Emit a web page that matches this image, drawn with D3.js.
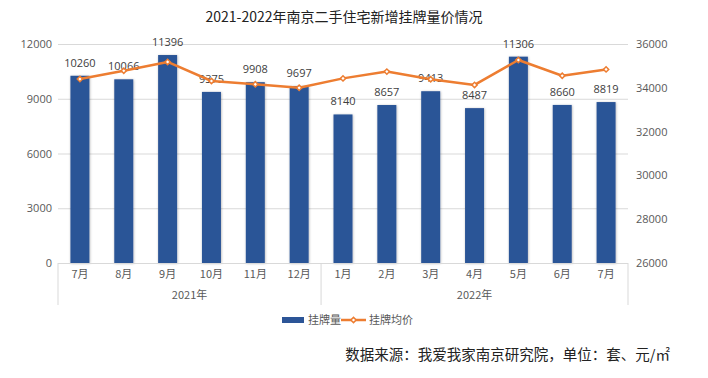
<!DOCTYPE html>
<html>
<head>
<meta charset="utf-8">
<script src="https://cdn.jsdelivr.net/npm/d3@7"></script>
<style>
  body { margin: 0; background: #fff; }
  svg text { font-family: "Noto Sans CJK SC", "Noto Sans", sans-serif; }
</style>
</head>
<body>
<svg></svg>
<script>
// chart data
let months = ['7月', '8月', '9月', '10月', '11月', '12月', '1月', '2月', '3月', '4月', '5月', '6月', '7月'];
let listings = [10260, 10066, 11396, 9375, 9908, 9697, 8140, 8657, 9413, 8487, 11306, 8660, 8819];
let avgPrice = [34400, 34780, 35180, 34310, 34160, 34000, 34430, 34740, 34390, 34130, 35270, 34550, 34840];
let yearLabels = ['2021年', '2022年'];
let yearSpans = [6, 7];
let leftTicks = [0, 3000, 6000, 9000, 12000];
let rightTicks = [26000, 28000, 30000, 32000, 34000, 36000];

let width = 708, height = 378;
let plotLeft = 58, plotRight = 628, plotTop = 44, plotBottom = 263;

let svg = d3.select('svg').attr('width', width).attr('height', height);

let x = d3.scaleBand().domain(d3.range(months.length)).range([plotLeft, plotRight]);
let yLeft = d3.scaleLinear().domain([0, 12000]).range([plotBottom, plotTop]);
let yRight = d3.scaleLinear().domain([26000, 36000]).range([plotBottom, plotTop]);
let cx = (i) => x(i) + x.bandwidth() / 2;
let barW = 19;
let numFont = '"Open Sans", "Noto Sans", sans-serif';

// title
svg.append('text')
    .attr('x', 344).attr('y', 22)
    .attr('text-anchor', 'middle')
    .attr('font-size', 14)
    .attr('fill', '#222')
    .text('2021-2022年南京二手住宅新增挂牌量价情况');

// gridlines
svg.append('g')
    .attr('transform', `translate(${plotLeft},0)`)
    .call(d3.axisLeft(yLeft).tickValues(leftTicks.slice(1)).tickSize(-(plotRight - plotLeft)).tickFormat(''))
    .call(g => g.select('.domain').remove())
    .call(g => g.selectAll('line').attr('stroke', '#d9d9d9'));

// left axis
svg.append('g')
    .attr('transform', `translate(${plotLeft - 6},0)`)
    .call(d3.axisLeft(yLeft).tickValues(leftTicks).tickSize(0).tickPadding(0).tickFormat(d3.format('d')))
    .call(g => g.select('.domain').remove())
    .call(g => g.selectAll('text').attr('fill', '#595959').attr('font-size', 11).style('font-family', numFont));

// right axis
svg.append('g')
    .attr('transform', `translate(${plotRight + 8},0)`)
    .call(d3.axisRight(yRight).tickValues(rightTicks).tickSize(0).tickPadding(0).tickFormat(d3.format('d')))
    .call(g => g.select('.domain').remove())
    .call(g => g.selectAll('text').attr('fill', '#595959').attr('font-size', 11).style('font-family', numFont));

// bar shadow
let defs = svg.append('defs');
let f = defs.append('filter').attr('id', 'shadow').attr('x', '-30%').attr('y', '-10%').attr('width', '160%').attr('height', '120%');
f.append('feDropShadow').attr('dx', 0.5).attr('dy', 0.5).attr('stdDeviation', 1).attr('flood-color', '#000').attr('flood-opacity', 0.3);

// bars
svg.selectAll('rect.bar')
    .data(listings)
    .enter()
    .append('rect')
    .attr('class', 'bar')
    .attr('x', (d, i) => cx(i) - barW / 2)
    .attr('y', (d) => yLeft(d))
    .attr('width', barW)
    .attr('height', (d) => plotBottom - yLeft(d))
    .attr('fill', '#2c5597')
    .attr('filter', 'url(#shadow)');

// bar labels
svg.selectAll('text.barlabel')
    .data(listings)
    .enter()
    .append('text')
    .attr('class', 'barlabel')
    .attr('x', (d, i) => cx(i))
    .attr('y', (d) => yLeft(d) - 9)
    .attr('text-anchor', 'middle')
    .attr('font-size', 11)
    .attr('fill', '#404040')
    .style('font-family', numFont)
    .text((d) => d);

// line
let line = d3.line().x((d, i) => cx(i)).y((d) => yRight(d));
svg.append('path')
    .datum(avgPrice)
    .attr('d', line)
    .attr('fill', 'none')
    .attr('stroke', '#ed7d31')
    .attr('stroke-width', 2.5)
    .attr('stroke-linejoin', 'round');

let marker = d3.symbol().type(d3.symbolSquare).size(14);
svg.selectAll('path.marker')
    .data(avgPrice)
    .enter()
    .append('path')
    .attr('class', 'marker')
    .attr('d', marker)
    .attr('transform', (d, i) => `translate(${cx(i)},${yRight(d)}) rotate(45)`)
    .attr('fill', '#fff')
    .attr('stroke', '#ed7d31')
    .attr('stroke-width', 1.5);

// category axis
let xAxisG = svg.append('g').attr('transform', `translate(0,${plotBottom})`);
xAxisG.call(d3.axisBottom(x).tickSize(0).tickPadding(7).tickFormat((i) => months[i]))
    .call(g => g.select('.domain').attr('stroke', '#d9d9d9').attr('d', `M${plotLeft},0.5H${plotRight}`))
    .call(g => g.selectAll('text').attr('fill', '#595959').attr('font-size', 11));

// year groups
let starts = yearSpans.map((n, k) => d3.sum(yearSpans.slice(0, k)));
let bounds = [0].concat(yearSpans.map((n, k) => starts[k] + n));
let edge = (b) => b < months.length ? x(b) : plotRight;
xAxisG.selectAll('line.sep')
    .data(bounds)
    .enter()
    .append('line')
    .attr('class', 'sep')
    .attr('x1', edge)
    .attr('x2', edge)
    .attr('y1', 0).attr('y2', 42)
    .attr('stroke', '#d9d9d9');

xAxisG.selectAll('text.year')
    .data(yearLabels)
    .enter()
    .append('text')
    .attr('class', 'year')
    .attr('x', (d, k) => (edge(starts[k]) + edge(starts[k] + yearSpans[k])) / 2)
    .attr('y', 36)
    .attr('text-anchor', 'middle')
    .attr('font-size', 11)
    .attr('fill', '#595959')
    .text((d) => d);

// legend
let lg = svg.append('g').attr('transform', 'translate(282,320)');
lg.append('rect').attr('x', 0).attr('y', -3).attr('width', 22).attr('height', 6).attr('fill', '#2c5597');
lg.append('text').attr('x', 26).attr('y', 4).attr('font-size', 11).attr('fill', '#595959').text('挂牌量');
lg.append('line').attr('x1', 59).attr('x2', 84).attr('y1', 0).attr('y2', 0).attr('stroke', '#ed7d31').attr('stroke-width', 2.5);
lg.append('path').attr('d', marker).attr('transform', 'translate(71.5,0) rotate(45)').attr('fill', '#fff').attr('stroke', '#ed7d31').attr('stroke-width', 1.5);
lg.append('text').attr('x', 87).attr('y', 4).attr('font-size', 11).attr('fill', '#595959').text('挂牌均价');

// source note
svg.append('text')
    .attr('x', 670).attr('y', 360)
    .attr('text-anchor', 'end')
    .attr('font-size', 14.5)
    .attr('fill', '#222')
    .text('数据来源：我爱我家南京研究院，单位：套、元/㎡');
</script>
</body>
</html>
